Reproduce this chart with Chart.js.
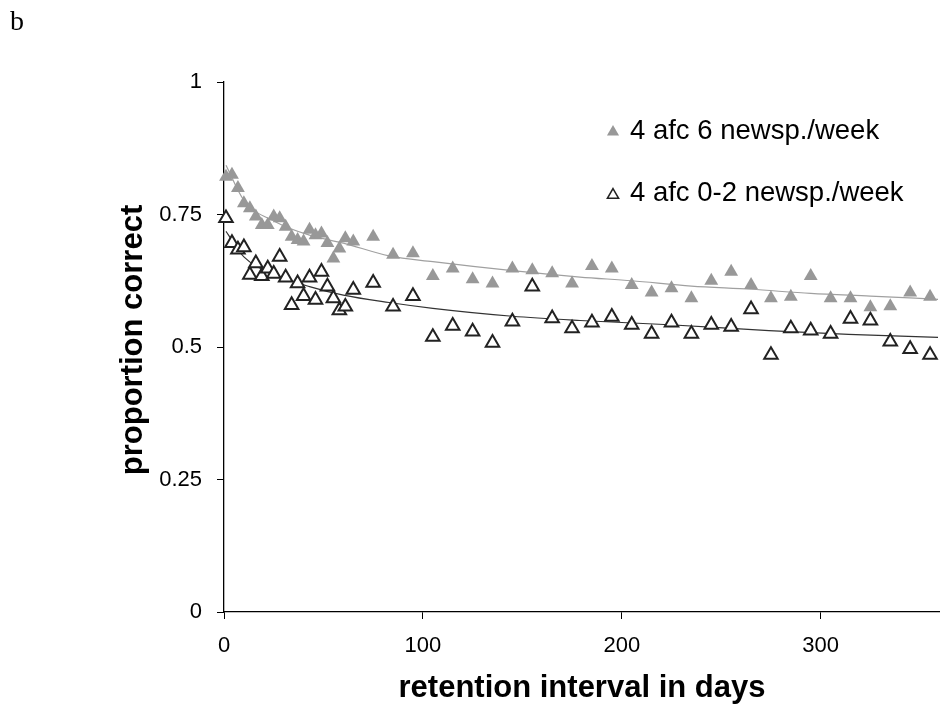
<!DOCTYPE html>
<html><head><meta charset="utf-8">
<script src="https://cdn.jsdelivr.net/npm/chart.js@4/dist/chart.umd.min.js"></script>
<style>html,body{margin:0;padding:0;background:#fff;} #wrap{width:940px;height:704px;position:relative;}</style>
</head><body><div id="wrap"><canvas id="c" width="940" height="704"></canvas></div>
<script>
const days = [1,4,7,10,13,16,19,22,25,28,31,34,37,40,43,46,49,52,55,58,61,65,75,85,95,105,115,125,135,145,155,165,175,185,195,205,215,225,235,245,255,265,275,285,295,305,315,325,335,345,355];
const sixNewsp = [0.821,0.825,0.800,0.771,0.762,0.746,0.730,0.730,0.746,0.743,0.727,0.708,0.702,0.699,0.721,0.711,0.714,0.696,0.667,0.686,0.705,0.699,0.708,0.674,0.677,0.634,0.648,0.628,0.620,0.648,0.645,0.639,0.620,0.653,0.648,0.617,0.603,0.611,0.592,0.625,0.642,0.617,0.592,0.595,0.634,0.592,0.592,0.575,0.577,0.603,0.595];
const zeroTwoNewsp = [0.743,0.696,0.684,0.688,0.636,0.658,0.634,0.648,0.638,0.670,0.631,0.579,0.620,0.596,0.631,0.589,0.642,0.614,0.592,0.569,0.576,0.608,0.621,0.576,0.596,0.519,0.540,0.529,0.508,0.548,0.614,0.554,0.535,0.546,0.557,0.542,0.525,0.546,0.525,0.542,0.538,0.571,0.485,0.535,0.531,0.525,0.553,0.550,0.510,0.496,0.485];
const fitDays6 = [1,10,26,43,60,83,105,145,179,205,235,265,295,325,359];
const fit6 = [0.843,0.777,0.736,0.711,0.696,0.672,0.661,0.644,0.632,0.625,0.615,0.609,0.601,0.596,0.590];
const fitDays02 = [1,10,26,43,60,83,105,145,179,224,274,314,359];
const fit02 = [0.718,0.670,0.636,0.614,0.598,0.584,0.573,0.558,0.550,0.542,0.531,0.524,0.518];
const yTickValues = [0,0.25,0.5,0.75,1];
const xTickValues = [0,100,200,300];
const seriesLabels = ['4 afc 6 newsp./week','4 afc 0-2 newsp./week'];
const xTitle = 'retention interval in days';
const yTitle = 'proportion correct';
const panelLabel = 'b';

const GRAY = '#989898';
const DARK = '#222222';
const SANS = '"Liberation Sans", Arial, Helvetica, sans-serif';

const pts = (xs, ys) => xs.map((x, i) => ({x: x, y: ys[i]}));

const overlay = {
  id: 'overlay',
  afterDraw(chart) {
    const ctx = chart.ctx;
    ctx.save();
    ctx.fillStyle = '#000';
    ctx.font = '28px "Liberation Serif", "Times New Roman", serif';
    ctx.textAlign = 'left'; ctx.textBaseline = 'alphabetic';
    ctx.fillText(panelLabel, 10, 30);
    ctx.font = 'bold 31px ' + SANS;
    ctx.textAlign = 'center';
    ctx.fillText(xTitle, 582, 697);
    ctx.save();
    ctx.translate(142, 340);
    ctx.rotate(-Math.PI / 2);
    ctx.fillText(yTitle, 0, 0);
    ctx.restore();
    ctx.font = '27.5px ' + SANS;
    ctx.textAlign = 'left';
    ctx.fillText(seriesLabels[0], 630, 139);
    ctx.fillText(seriesLabels[1], 630, 201);
    const tri = (cx, cy, r) => {
      ctx.beginPath();
      ctx.moveTo(cx, cy - r);
      ctx.lineTo(cx + 0.866 * r, cy + r / 2);
      ctx.lineTo(cx - 0.866 * r, cy + r / 2);
      ctx.closePath();
    };
    tri(613, 132, 7);
    ctx.fillStyle = GRAY; ctx.fill();
    tri(613, 195, 6.5);
    ctx.fillStyle = '#fff'; ctx.fill();
    ctx.strokeStyle = DARK; ctx.lineWidth = 1.5; ctx.stroke();
    ctx.restore();
  }
};

new Chart(document.getElementById('c'), {
  type: 'scatter',
  data: {
    datasets: [
      {label: seriesLabels[0], data: pts(days, sixNewsp), pointStyle: 'triangle', pointRadius: 8,
       backgroundColor: GRAY, borderColor: GRAY, borderWidth: 0, order: 0, clip: false},
      {label: seriesLabels[1], data: pts(days, zeroTwoNewsp), pointStyle: 'triangle', pointRadius: 7.8,
       backgroundColor: '#ffffff', borderColor: DARK, borderWidth: 2, order: 0, clip: false},
      {label: 'fit6', data: pts(fitDays6, fit6), showLine: true, pointRadius: 0, borderColor: '#a0a0a0',
       borderWidth: 1.2, cubicInterpolationMode: 'monotone', order: 1},
      {label: 'fit02', data: pts(fitDays02, fit02), showLine: true, pointRadius: 0, borderColor: '#333333',
       borderWidth: 1.2, cubicInterpolationMode: 'monotone', order: 1}
    ]
  },
  options: {
    responsive: false, animation: false, devicePixelRatio: 1,
    layout: {autoPadding: false, padding: {top: 82, right: 0, bottom: 0, left: 0}},
    plugins: {legend: {display: false}, tooltip: {enabled: false}},
    scales: {
      x: {
        type: 'linear', min: 0, max: 360, position: 'bottom',
        border: {display: true, color: '#000', width: 1.3},
        grid: {display: true, drawOnChartArea: false, drawTicks: true, tickLength: 7, color: '#000', lineWidth: 1},
        ticks: {color: '#000', font: {family: SANS, size: 22}, padding: 14, maxRotation: 0, autoSkip: false},
        afterBuildTicks: s => { s.ticks = xTickValues.map(v => ({value: v})); },
        afterFit: s => { s.height = 92; s.paddingLeft = 0; s.paddingRight = 0; }
      },
      y: {
        type: 'linear', min: 0, max: 1,
        border: {display: true, color: '#000', width: 1.3},
        grid: {display: true, drawOnChartArea: false, drawTicks: true, tickLength: 7, color: '#000', lineWidth: 1},
        ticks: {color: '#000', font: {family: SANS, size: 22}, padding: 15, callback: v => String(v)},
        afterBuildTicks: s => { s.ticks = yTickValues.map(v => ({value: v})); },
        afterFit: s => { s.width = 224; s.paddingTop = 0; s.paddingBottom = 0; }
      }
    }
  },
  plugins: [overlay]
});
</script></body></html>
